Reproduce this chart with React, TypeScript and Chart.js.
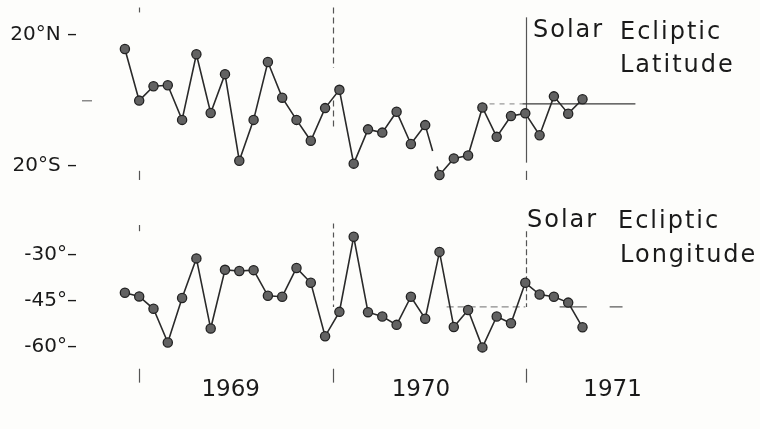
import React, { useEffect, useRef } from 'react';
import { Chart, registerables } from 'chart.js';

Chart.register(...registerables);

// Solar (Bartels) rotation index along the time axis
const rotations = [
  0, 1, 2, 3, 4, 5, 6, 7, 8, 9, 10, 11, 12, 13, 14, 15, 16,
  17, 18, 19, 20, 21, 22, 23, 24, 25, 26, 27, 28, 29, 30, 31, 32,
];

// Solar ecliptic latitude (degrees, + = N)
const latitude = [
  15.8, 0, 4.4, 4.7, -5.9, 14.2, -3.8, 8.1, -18.4, -5.9, 11.8, 0.9, -5.9,
  -12.3, -2.3, 3.3, -19.3, -8.8, -9.8, -3.4, -13.3, -7.5, -22.8, -17.7,
  -16.8, -2.1, -11.1, -4.7, -3.9, -10.6, 1.3, -4.0, 0.4,
];

// Solar ecliptic longitude (degrees)
const longitude = [
  -42.4, -43.6, -47.6, -58.5, -44.1, -31.3, -54.0, -35.0, -35.4, -35.1,
  -43.4, -43.7, -34.4, -39.2, -56.5, -48.6, -24.3, -48.7, -50.1, -52.8,
  -43.7, -50.8, -29.2, -53.5, -48.0, -60.1, -50.1, -52.3, -39.2, -43.0,
  -43.7, -45.6, -53.6,
];

const latTicks = [20, 0, -20];
const latTickLabels = ['20°N –', '', '20°S –'];
const lonTicks = [-30, -45, -60];
const lonTickLabels = ['-30°–', '-45°–', '-60°–'];

const yearLabels = ['1969', '1970', '1971'];
const yearLabelAt = [7.4, 20.7, 34.1];
const yearBoundaries = [1.0, 14.55, 28.05];

// reference levels
const latRef = -1;
const latRefSpan = [25.5, 27.8, 35.7];
const lonRef = -47;
const lonRefSegments = [
  [22.5, 28.0],
  [30.4, 32.3],
  [33.9, 34.8],
];

// the latitude trace is broken after this rotation
const latBreakAfter = 21;

const boundarySegments = [
  { b: 0, axis: 'yLat', from: 28.5, to: 27, dash: [] },
  { b: 0, axis: 'yLat', from: -21.5, to: -24.3, dash: [] },
  { b: 0, axis: 'yLon', from: -20.5, to: -22.5, dash: [] },
  { b: 0, axis: 'yLon', from: -67, to: -71.5, dash: [] },
  { b: 1, axis: 'yLat', from: 28.5, to: 10, dash: [6, 4] },
  { b: 1, axis: 'yLat', from: 0, to: -9, dash: [6, 4] },
  { b: 1, axis: 'yLon', from: -20, to: -47, dash: [5, 4] },
  { b: 1, axis: 'yLon', from: -67, to: -71.5, dash: [] },
  { b: 2, axis: 'yLat', from: 25.5, to: -19, dash: [] },
  { b: 2, axis: 'yLat', from: -21.5, to: -24.3, dash: [] },
  { b: 2, axis: 'yLon', from: -22.5, to: -47, dash: [6, 3] },
  { b: 2, axis: 'yLon', from: -67, to: -71.5, dash: [] },
];

const titleTexts = [
  { text: 'Solar', x: 533, y: 37 },
  { text: 'Ecliptic', x: 620, y: 38.5 },
  { text: 'Latitude', x: 620, y: 72 },
  { text: 'Solar', x: 527, y: 227 },
  { text: 'Ecliptic', x: 618, y: 228 },
  { text: 'Longitude', x: 620, y: 262 },
];

const INK = '#1a1a1a';
const LINE = '#2a2a2a';

const overlayPlugin = {
  id: 'overlay',
  beforeDatasetsDraw(chart: any) {
    const ctx = chart.ctx;
    const xs = chart.scales.x;
    ctx.save();
    ctx.strokeStyle = '#555555';
    ctx.lineWidth = 1.2;
    for (const seg of boundarySegments) {
      const sc = chart.scales[seg.axis];
      const px = Math.round(xs.getPixelForValue(yearBoundaries[seg.b])) + 0.5;
      ctx.setLineDash(seg.dash);
      ctx.beginPath();
      ctx.moveTo(px, sc.getPixelForValue(seg.from));
      ctx.lineTo(px, sc.getPixelForValue(seg.to));
      ctx.stroke();
    }
    ctx.restore();
  },
  afterDraw(chart: any) {
    const ctx = chart.ctx;
    ctx.save();
    ctx.font = '24px "DejaVu Sans"';
    try {
      (ctx as any).letterSpacing = '2px';
    } catch (e) {}
    ctx.fillStyle = INK;
    ctx.textAlign = 'left';
    ctx.textBaseline = 'alphabetic';
    for (const t of titleTexts) ctx.fillText(t.text, t.x, t.y);
    ctx.restore();
  },
};

export default function App() {
  const ref = useRef<HTMLCanvasElement | null>(null);

  useEffect(() => {
    if (!ref.current) return;

    const latData = rotations.map((r, i) => ({ x: r, y: latitude[i] }));
    const lonData = rotations.map((r, i) => ({ x: r, y: longitude[i] }));
    const latRefData = latRefSpan.map((x) => ({ x, y: latRef }));
    const lonRefData: any[] = [];
    lonRefSegments.forEach((s, i) => {
      if (i > 0) lonRefData.push({ x: (lonRefSegments[i - 1][1] + s[0]) / 2, y: null });
      lonRefData.push({ x: s[0], y: lonRef });
      lonRefData.push({ x: s[1], y: lonRef });
    });

    const seriesStyle = {
      borderColor: LINE,
      borderWidth: 1.6,
      pointRadius: 4.6,
      pointBackgroundColor: '#626262',
      pointBorderColor: '#222222',
      pointBorderWidth: 1.3,
      tension: 0,
    };

    const chart = new Chart(ref.current, {
      type: 'line',
      data: {
        datasets: [
          {
            label: 'Solar Ecliptic Latitude',
            data: latData,
            yAxisID: 'yLat',
            ...seriesStyle,
            segment: {
              borderDash: (c: any) => (c.p0DataIndex === latBreakAfter ? [27, 16] : undefined),
            },
          },
          {
            label: 'Solar Ecliptic Longitude',
            data: lonData,
            yAxisID: 'yLon',
            ...seriesStyle,
          },
          {
            label: 'lat ref',
            data: latRefData,
            yAxisID: 'yLat',
            borderColor: '#3a3a3a',
            borderWidth: 1.2,
            pointRadius: 0,
            segment: {
              borderDash: (c: any) => (c.p0DataIndex === 0 ? [5, 5] : undefined),
              borderColor: (c: any) => (c.p0DataIndex === 0 ? '#9a9a9a' : undefined),
            },
          },
          {
            label: 'lon ref',
            data: lonRefData,
            yAxisID: 'yLon',
            borderColor: '#5a5a5a',
            borderWidth: 1.2,
            pointRadius: 0,
            spanGaps: false,
            segment: {
              borderDash: (c: any) => (c.p0DataIndex === 0 ? [7, 4] : undefined),
              borderColor: (c: any) => (c.p0DataIndex === 0 ? '#8a8a8a' : undefined),
            },
          },
        ],
      },
      options: {
        animation: false,
        responsive: false,
        devicePixelRatio: 1,
        layout: { padding: { top: 2, right: 5, bottom: 0, left: 0 } },
        plugins: {
          legend: { display: false },
          tooltip: { enabled: false },
        },
        scales: {
          x: {
            type: 'linear',
            min: -2.3,
            max: 44,
            position: 'bottom',
            border: { display: false },
            grid: { display: false },
            afterBuildTicks: (s: any) => {
              s.ticks = yearLabelAt.map((v) => ({ value: v }));
            },
            afterFit: (s: any) => {
              s.height = 51;
              s.paddingLeft = 0;
              s.paddingRight = 0;
            },
            ticks: {
              autoSkip: false,
              maxRotation: 0,
              padding: -10,
              color: INK,
              font: { family: 'DejaVu Sans', size: 23 },
              callback: (v: any) => {
                const i = yearLabelAt.indexOf(v);
                return i >= 0 ? yearLabels[i] : '';
              },
            },
          },
          yLat: {
            type: 'linear',
            position: 'left',
            stack: 'panels',
            stackWeight: 198,
            weight: 2,
            min: -31,
            max: 29,
            border: { display: false },
            grid: {
              drawOnChartArea: false,
              drawTicks: true,
              tickLength: 10,
              lineWidth: 1.5,
              color: (c: any) => (c.tick && c.tick.value === 0 ? '#8a8a8a' : 'rgba(0,0,0,0)'),
            },
            afterBuildTicks: (s: any) => {
              s.ticks = latTicks.map((v) => ({ value: v }));
            },
            afterFit: (s: any) => {
              s.width = 92;
              s.paddingTop = 0;
              s.paddingBottom = 0;
            },
            ticks: {
              autoSkip: false,
              padding: 5,
              color: INK,
              font: { family: 'DejaVu Sans', size: 20 },
              callback: (v: any) => {
                const i = latTicks.indexOf(v);
                return i >= 0 ? latTickLabels[i] : '';
              },
            },
          },
          yLon: {
            type: 'linear',
            position: 'left',
            stack: 'panels',
            stackWeight: 178,
            weight: 1,
            min: -70,
            max: -13,
            border: { display: false },
            grid: {
              drawOnChartArea: false,
              drawTicks: true,
              tickLength: 10,
              color: 'rgba(0,0,0,0)',
            },
            afterBuildTicks: (s: any) => {
              s.ticks = lonTicks.map((v) => ({ value: v }));
            },
            afterFit: (s: any) => {
              s.width = 92;
              s.paddingTop = 0;
              s.paddingBottom = 0;
            },
            ticks: {
              autoSkip: false,
              padding: 5,
              color: INK,
              font: { family: 'DejaVu Sans', size: 20 },
              callback: (v: any) => {
                const i = lonTicks.indexOf(v);
                return i >= 0 ? lonTickLabels[i] : '';
              },
            },
          },
        },
      } as any,
      plugins: [overlayPlugin],
    });

    return () => chart.destroy();
  }, []);

  return (
    <div
      style={{
        position: 'fixed',
        left: 0,
        top: 0,
        width: 760,
        height: 429,
        background: '#fdfdfb',
      }}
    >
      <canvas ref={ref} width={760} height={429} style={{ display: 'block' }} />
    </div>
  );
}
